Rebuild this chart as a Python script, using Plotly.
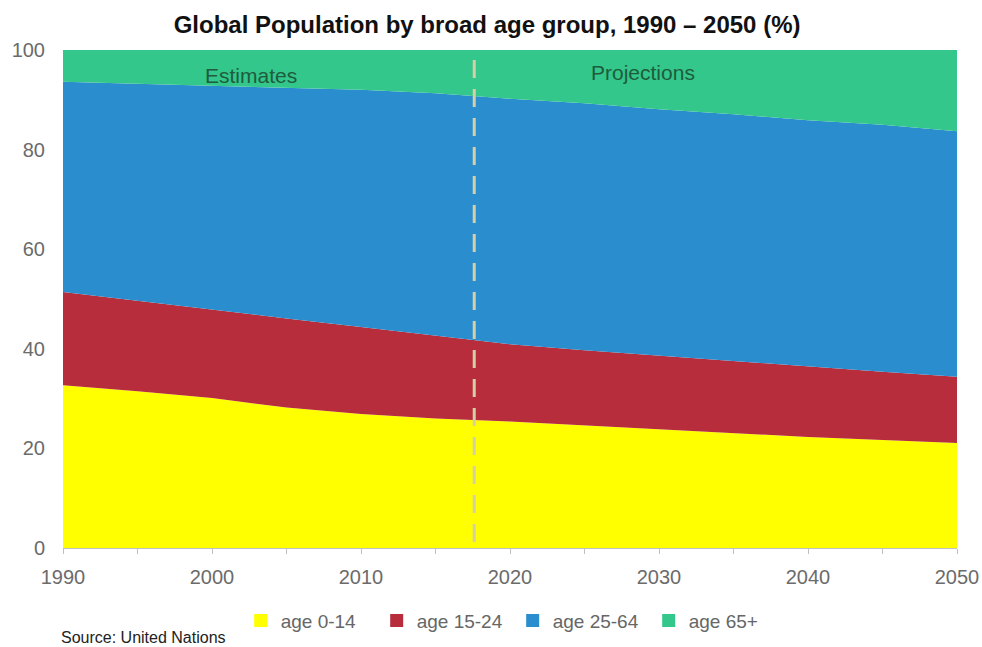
import plotly.graph_objects as go

years = [1990, 1995, 2000, 2005, 2010, 2015, 2020, 2025, 2030, 2035, 2040, 2045, 2050]
age_0_14 = [32.7, 31.5, 30.1, 28.2, 26.9, 26.0, 25.4, 24.6, 23.8, 23.0, 22.3, 21.7, 21.1]
age_15_24 = [18.7, 18.1, 17.7, 17.9, 17.5, 16.6, 15.5, 15.1, 14.8, 14.5, 14.1, 13.7, 13.3]
age_25_64 = [42.2, 43.6, 45.0, 46.3, 47.6, 48.7, 49.3, 49.6, 49.5, 49.6, 49.5, 49.6, 49.3]
age_65_plus = [6.4, 6.8, 7.2, 7.6, 8.0, 8.7, 9.8, 10.7, 11.9, 12.9, 14.1, 15.0, 16.3]

names = ["age 0-14", "age 15-24", "age 25-64", "age 65+"]
colors = ["#FFFF00", "#B82D3C", "#2A8DCD", "#33C78B"]
series = [age_0_14, age_15_24, age_25_64, age_65_plus]

split_year = 2017.6
FONT = "Liberation Sans, Arial"

fig = go.Figure()
for name, col, vals in zip(names, colors, series):
    fig.add_trace(go.Scatter(
        x=years, y=vals, name=name, mode="lines",
        stackgroup="one", line=dict(width=0, color=col),
        fillcolor=col, hoverinfo="x+y+name", showlegend=False,
    ))
# legend entries with square swatches
for name, col in zip(names, colors):
    fig.add_trace(go.Scatter(
        x=[None], y=[None], name=name, mode="markers",
        marker=dict(symbol="square", size=13, color=col), showlegend=True,
    ))

fig.add_shape(type="line", xref="x", yref="y", x0=split_year, x1=split_year,
              y0=98, y1=0, line=dict(color="#D5CFA8", width=3, dash="18px,11px"))

fig.add_annotation(x=2002.6, y=94.8, xref="x", yref="y", text="Estimates",
                   showarrow=False, font=dict(family=FONT, size=21, color="#1E5C3C"))
fig.add_annotation(x=2028.9, y=95.4, xref="x", yref="y", text="Projections",
                   showarrow=False, font=dict(family=FONT, size=21, color="#1E5C3C"))
fig.add_annotation(x=-0.004, y=-0.18, xref="paper", yref="paper", text="Source: United Nations",
                   showarrow=False, xanchor="left", yanchor="middle",
                   font=dict(family=FONT, size=16, color="#222222"))

fig.update_layout(
    width=982, height=647,
    margin=dict(l=63, r=25, t=50, b=99, autoexpand=False),
    paper_bgcolor="white", plot_bgcolor="white",
    title=dict(text="<b>Global Population by broad age group, 1990 \u2013 2050 (%)</b>",
               x=0.496, xanchor="center", y=0.962, yanchor="middle",
               font=dict(family=FONT, size=24, color="#111111")),
    xaxis=dict(range=[1990, 2050], tickvals=[1990, 2000, 2010, 2020, 2030, 2040, 2050],
               showgrid=False, zeroline=False, showline=True, linecolor="#BFBFBF", linewidth=1,
               ticks="outside", ticklen=5, tickcolor="#BFBFBF", automargin=False,
               ticklabelstandoff=6,
               minor=dict(tickvals=[1995, 2005, 2015, 2025, 2035, 2045], ticks="outside", ticklen=5, tickcolor="#BFBFBF"),
               tickfont=dict(family=FONT, size=20, color="#6B6B6B")),
    yaxis=dict(range=[0, 100], tickvals=[0, 20, 40, 60, 80, 100], showgrid=False, zeroline=False,
               showline=False, ticks="", ticklabelstandoff=17, automargin=False,
               tickfont=dict(family=FONT, size=20, color="#6B6B6B")),
    legend=dict(orientation="h", x=0.503, xanchor="center", y=-0.146, yanchor="middle",
                font=dict(family=FONT, size=19, color="#666666"),
                itemwidth=30, traceorder="normal", entrywidth=91, entrywidthmode="pixels"),
    showlegend=True,
)

fig.write_html("out.html")
